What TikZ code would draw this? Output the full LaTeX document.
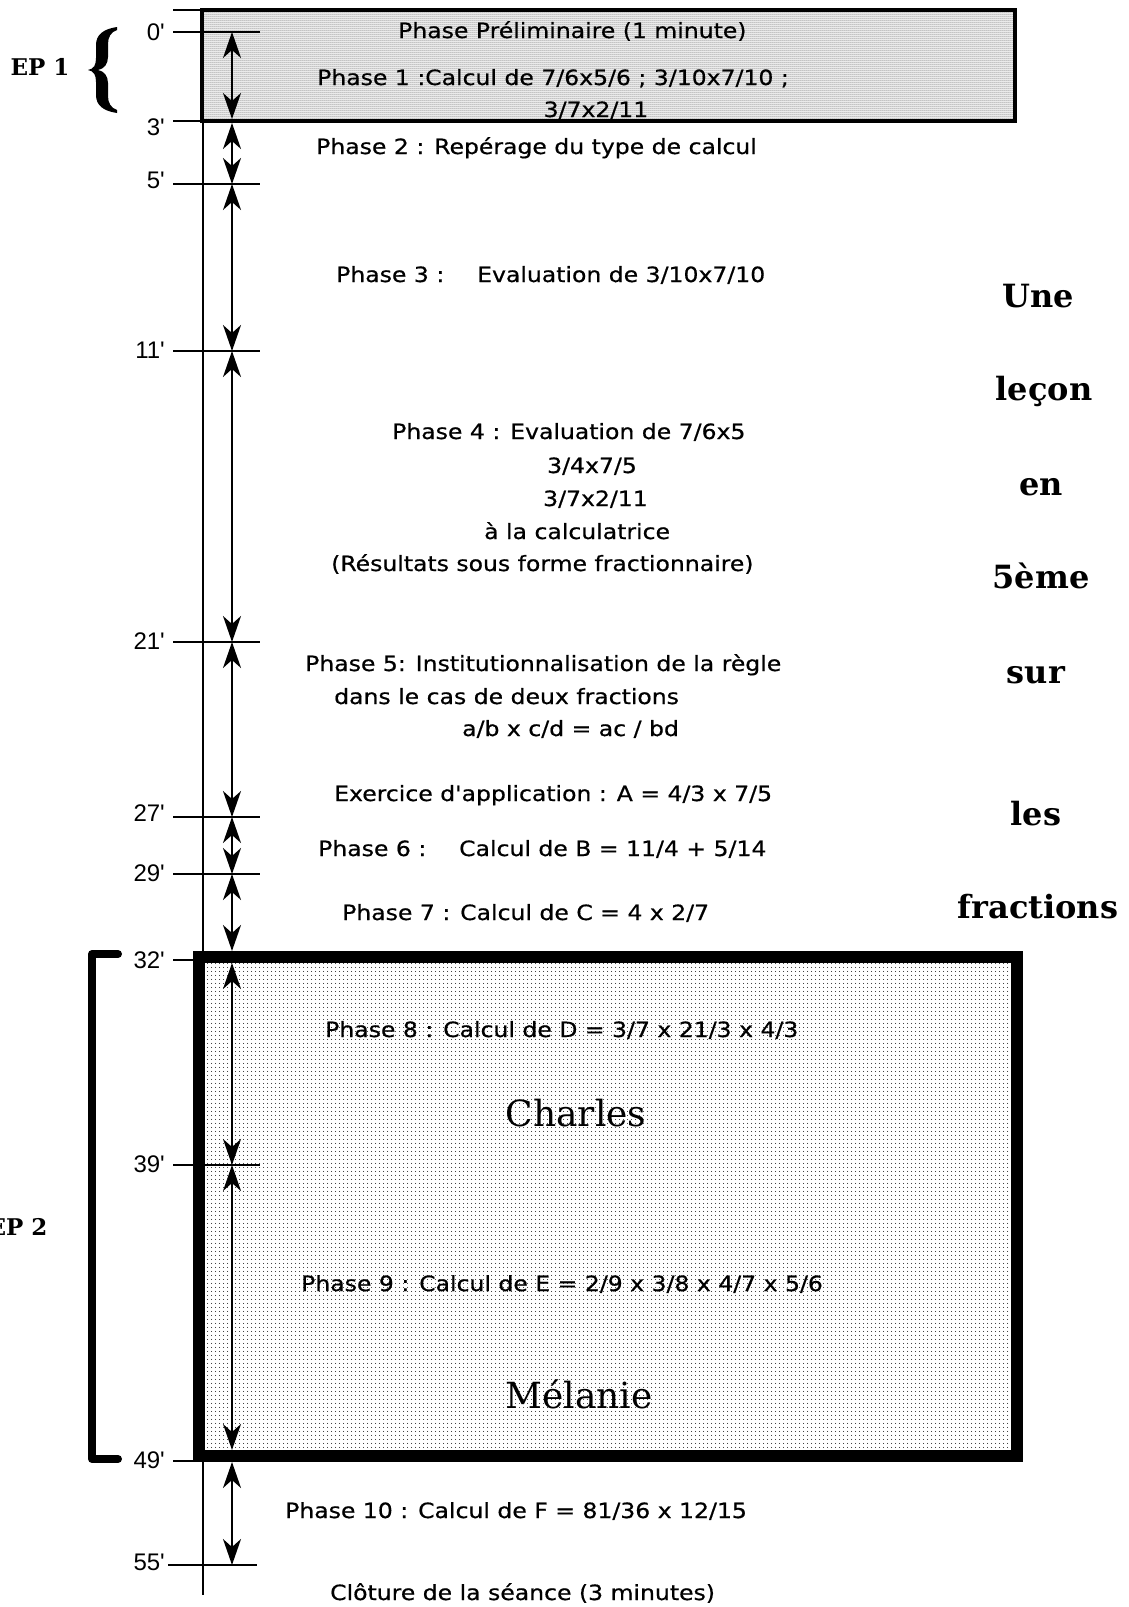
\documentclass[tikz,border=0pt]{standalone}
\usepackage{fontspec}
\usetikzlibrary{arrows.meta,patterns.meta}
\newfontfamily\phfont[FakeStretch=1.12,RawFeature={embolden=0.6}]{DejaVu Sans}
\newfontfamily\tickfont{Liberation Sans}
\newfontfamily\seriffont{DejaVu Serif}
\tikzset{
  ph/.style={font=\phfont\fontsize{21}{25}\selectfont, inner sep=0pt, anchor=base west},
  phc/.style={ph, anchor=base},
  tk/.style={font=\tickfont\fontsize{24}{28}\selectfont, inner sep=0pt, anchor=east},
  rl/.style={font=\seriffont\bfseries\fontsize{32}{36}\selectfont, inner sep=0pt, anchor=base},
  eplabel/.style={font=\seriffont\bfseries\fontsize{23}{27}\selectfont, inner sep=0pt, anchor=base},
  nm/.style={font=\seriffont\fontsize{36}{40}\selectfont, inner sep=0pt, anchor=base},
  tickline/.style={line width=1.8pt},
  dimarrow/.style={line width=1.8pt, arrows={Stealth[length=26pt,width=18pt,inset=8pt]-Stealth[length=26pt,width=18pt,inset=8pt]}},
  boxA/.style={line width=3.5pt},
  boxB/.style={line width=12pt},
  bracket/.style={line width=8pt, line cap=round, line join=round},
}
\begin{document}
\begin{tikzpicture}[x=1pt,y=-1pt]
\useasboundingbox (0,0) rectangle (1128,1607);
% box fills
\path[pattern={Dots[radius=0.5pt,distance=2pt]}] (202,10) rectangle (1015,121);
\path[pattern={Dots[radius=0.6pt,distance=4pt]}] (199,957) rectangle (1017,1456);
% axis
\draw[tickline] (203,10) -- (203,1595);
\draw[tickline] (173,10) -- (203,10);
\foreach \yy/\xs/\xe in {32/173/260, 121/173/203, 184/173/260, 351/173/260, 642/173/260, 817/173/260, 874/173/260, 960/173/196, 1165/173/260, 1461/173/196, 1565/168/257}
  \draw[tickline] (\xs,\yy) -- (\xe,\yy);
% tick labels
\node[tk] (m0)  at (165,32)   {0'};
\node[tk] (m3)  at (165,127)  {3'};
\node[tk] (m5)  at (165,180)  {5'};
\node[tk] (m11) at (165,350)  {11'};
\node[tk] (m21) at (165,641)  {21'};
\node[tk] (m27) at (165,813)  {27'};
\node[tk] (m29) at (165,873)  {29'};
\node[tk] (m32) at (165,960)  {32'};
\node[tk] (m39) at (165,1164) {39'};
\node[tk] (m49) at (165,1460) {49'};
\node[tk] (m55) at (165,1562) {55'};
% arrow end points
\coordinate (a0)   at (232,32);
\coordinate (a3u)  at (232,119);
\coordinate (a3d)  at (232,123);
\coordinate (a5)   at (232,184);
\coordinate (a11)  at (232,351);
\coordinate (a21)  at (232,642);
\coordinate (a27)  at (232,817);
\coordinate (a29)  at (232,874);
\coordinate (a32u) at (232,951);
\coordinate (a32d) at (232,963);
\coordinate (a39)  at (232,1165);
\coordinate (a49u) at (232,1450);
\coordinate (a49d) at (232,1462);
\coordinate (a55)  at (232,1565);
% texts
\node[ph] (pre) at (398,38) {Phase Préliminaire (1 minute)};
\node[ph] (p1) at (317,85) {Phase 1 :Calcul de 7/6x5/6 ; 3/10x7/10 ;};
\node[phc] (p1b) at (596,117) {3/7x2/11};
\node[ph] (p2) at (316,154) {Phase 2 : Repérage du type de calcul};
\node[ph] (p3a) at (336,282) {Phase 3 :};
\node[ph] (p3b) at (477,282) {Evaluation de 3/10x7/10};
\node[ph] (p4a) at (392,439) {Phase 4 : Evaluation de 7/6x5};
\node[ph] (p4b) at (547,473) {3/4x7/5};
\node[ph] (p4c) at (543,506) {3/7x2/11};
\node[ph] (p4d) at (484,539) {à la calculatrice};
\node[ph] (p4e) at (331,571) {(Résultats sous forme fractionnaire)};
\node[ph] (p5a) at (305,671) {Phase 5: Institutionnalisation de la règle};
\node[ph] (p5b) at (334,704) {dans le cas de deux fractions};
\node[ph] (p5c) at (462,736) {a/b x c/d = ac / bd};
\node[ph] (ex) at (334,801) {Exercice d'application : A = 4/3 x 7/5};
\node[ph] (p6a) at (318,856) {Phase 6 :};
\node[ph] (p6b) at (459,856) {Calcul de B = 11/4 + 5/14};
\node[ph] (p7) at (342,920) {Phase 7 : Calcul de C = 4 x 2/7};
\node[ph] (p8) at (325,1037) {Phase 8 : Calcul de D = 3/7 x 21/3 x 4/3};
\node[nm] (charles) at (576,1126) {Charles};
\node[ph] (p9) at (301,1291) {Phase 9 : Calcul de E = 2/9 x 3/8 x 4/7 x 5/6};
\node[nm] (melanie) at (579,1408) {Mélanie};
\node[ph] (p10) at (285,1518) {Phase 10 : Calcul de F = 81/36 x 12/15};
\node[ph] (clo) at (330,1600) {Clôture de la séance (3 minutes)};
% right title
\node[rl] (r1) at (1038,307) {Une};
\node[rl] (r2) at (1044,400) {leçon};
\node[rl] (r3) at (1041,495) {en};
\node[rl] (r4) at (1041,588) {5ème};
\node[rl] (r5) at (1036,683) {sur};
\node[rl] (r6) at (1036,825) {les};
\node[rl] (r7) at (1038,918) {fractions};
% episodes
\node[eplabel] (ep1) at (40,75) {EP 1};
\fill (117,27) .. controls (103,29) and (96,35) .. (96,45) -- (96,58)
  .. controls (96,65) and (94,69) .. (88,70)
  .. controls (94,71) and (96,75) .. (96,82) -- (96,95)
  .. controls (96,105) and (103,111) .. (117,113)
  -- (117,110) .. controls (111,108) and (108,103) .. (108,96) -- (108,83)
  .. controls (108,76) and (104,71) .. (98,70)
  .. controls (104,69) and (108,64) .. (108,57) -- (108,44)
  .. controls (108,37) and (111,32) .. (117,30) -- cycle;
\node[eplabel] (ep2) at (18,1235) {EP 2};
\draw[bracket] (118,954) -- (92,954) -- (92,1459) -- (118,1459);
% box borders
\draw[boxA] (202,10) rectangle (1015,121);
\draw[boxB] (199,957) rectangle (1017,1456);
% duration arrows
\draw[dimarrow] (a0) -- (a3u);
\draw[dimarrow] (a3d) -- (a5);
\draw[dimarrow] (a5) -- (a11);
\draw[dimarrow] (a11) -- (a21);
\draw[dimarrow] (a21) -- (a27);
\draw[dimarrow] (a27) -- (a29);
\draw[dimarrow] (a29) -- (a32u);
\draw[dimarrow] (a32d) -- (a39);
\draw[dimarrow] (a39) -- (a49u);
\draw[dimarrow] (a49d) -- (a55);
\end{tikzpicture}
\end{document}
